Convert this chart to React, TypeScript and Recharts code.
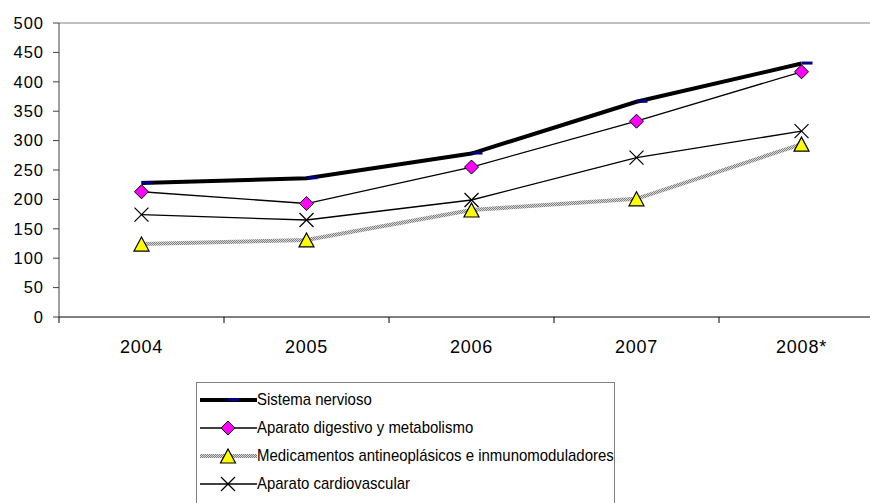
import React from "react";
import {
  LineChart, Line, XAxis, YAxis, ReferenceLine, Legend,
} from "recharts";

// valores
const years = ["2004", "2005", "2006", "2007", "2008*"];
const sistemaNervioso = [228, 236, 278, 366, 431];
const aparatoDigestivo = [213, 193, 255, 333, 417];
const antineoplasicos = [124, 131, 182, 201, 294];
const cardiovascular = [174, 165, 199, 271, 316];
const yTicks = [0, 50, 100, 150, 200, 250, 300, 350, 400, 450, 500];

const data = years.map((year, i) => ({
  year,
  sn: sistemaNervioso[i],
  ad: aparatoDigestivo[i],
  an: antineoplasicos[i],
  cv: cardiovascular[i],
}));

const FONT = '"Liberation Sans", Arial, sans-serif';
const CHART_W = 884;
const CHART_H = 503;
const Y_AXIS_W = 59;
const HALF_BAND = (CHART_W - Y_AXIS_W) / years.length / 2;

const NavyDash = (p: any) => (
  <rect key={`sn-${p.index}`} x={p.cx} y={p.cy - 2} width={11} height={3} fill="#000080" />
);

const Diamond = (p: any) => (
  <path
    key={`ad-${p.index}`}
    d={`M${p.cx},${p.cy - 7} L${p.cx + 7},${p.cy} L${p.cx},${p.cy + 7} L${p.cx - 7},${p.cy} Z`}
    fill="#FF00FF"
    stroke="#000"
    strokeWidth={1}
  />
);

const Triangle = (p: any) => (
  <path
    key={`an-${p.index}`}
    d={`M${p.cx},${p.cy - 7} L${p.cx + 7.5},${p.cy + 7} L${p.cx - 7.5},${p.cy + 7} Z`}
    fill="#FFFF00"
    stroke="#000"
    strokeWidth={1.2}
  />
);

const Cross = (p: any) => (
  <g key={`cv-${p.index}`} stroke="#000" strokeWidth={1.2}>
    <line x1={p.cx - 7} y1={p.cy - 7} x2={p.cx + 7} y2={p.cy + 7} />
    <line x1={p.cx - 7} y1={p.cy + 7} x2={p.cx + 7} y2={p.cy - 7} />
  </g>
);

const series = [
  { key: "sn", name: "Sistema nervioso", stroke: "#000", width: 4, dot: NavyDash },
  { key: "ad", name: "Aparato digestivo y metabolismo", stroke: "#000", width: 1.3, dot: Diamond },
  { key: "an", name: "Medicamentos antineoplásicos e inmunomoduladores", stroke: "url(#gris)", width: 4, dot: Triangle },
  { key: "cv", name: "Aparato cardiovascular", stroke: "#000", width: 1.3, dot: Cross },
];

const YearTick = (props: any) => {
  const { x, y, payload } = props;
  return (
    <g>
      <line x1={x - HALF_BAND} y1={y} x2={x - HALF_BAND} y2={y + 6} stroke="#000" />
      <text x={x} y={y + 36} textAnchor="middle" fontSize={18} letterSpacing={0.8} fontFamily={FONT} fill="#000">
        {payload.value}
      </text>
    </g>
  );
};

const renderLegend = () => (
  <div
    style={{
      border: "1px solid #808080",
      background: "#fff",
      width: 419,
      height: 140,
      boxSizing: "border-box",
      paddingTop: 3,
    }}
  >
    {series.map((s) => (
      <div key={s.key} style={{ display: "flex", alignItems: "center", height: 28, whiteSpace: "nowrap" }}>
        <svg width={57} height={18} style={{ marginLeft: 3, flexShrink: 0 }}>
          <line x1={0} y1={9} x2={57} y2={9} stroke={s.stroke} strokeWidth={s.width} />
          {s.dot({ cx: 28, cy: 9, index: "leg" })}
        </svg>
        <span
          style={{
            display: "inline-block",
            fontFamily: FONT,
            fontSize: 17,
            color: "#000",
            transform: "scaleX(0.88)",
            transformOrigin: "left center",
          }}
        >
          {s.name}
        </span>
      </div>
    ))}
  </div>
);

export default function App() {
  return (
    <div style={{ position: "absolute", left: 0, top: 0, width: 870, height: 503, overflow: "hidden", background: "#fff" }}>
      <LineChart
        width={CHART_W}
        height={CHART_H}
        data={data}
        margin={{ top: 23, right: 0, bottom: 156, left: 0 }}
      >
        <defs>
          <pattern id="gris" width={2} height={2} patternUnits="userSpaceOnUse">
            <rect width={2} height={2} fill="#d8d8d8" />
            <rect width={1} height={1} fill="#808080" />
            <rect x={1} y={1} width={1} height={1} fill="#808080" />
          </pattern>
        </defs>
        <XAxis
          dataKey="year"
          height={30}
          padding={{ left: HALF_BAND, right: HALF_BAND }}
          tickLine={false}
          tickSize={0}
          tickMargin={0}
          axisLine={{ stroke: "#000" }}
          tick={<YearTick />}
          interval={0}
        />
        <YAxis
          width={Y_AXIS_W}
          domain={[0, 500]}
          ticks={yTicks}
          interval={0}
          tickSize={6}
          tickMargin={9}
          axisLine={{ stroke: "#404040" }}
          tickLine={{ stroke: "#404040" }}
          tick={{ fontSize: 16.5, letterSpacing: 1, fontFamily: FONT, fill: "#000" }}
        />
        <ReferenceLine y={500} stroke="#808080" />
        {series.map((s) => (
          <Line
            key={s.key}
            dataKey={s.key}
            name={s.name}
            type="linear"
            stroke={s.stroke}
            strokeWidth={s.width}
            dot={s.dot}
            activeDot={false}
            isAnimationActive={false}
          />
        ))}
        <Legend
          layout="horizontal"
          verticalAlign="middle"
          align="center"
          content={renderLegend}
          wrapperStyle={{ left: 196, top: 382, width: 419 }}
        />
      </LineChart>
    </div>
  );
}
